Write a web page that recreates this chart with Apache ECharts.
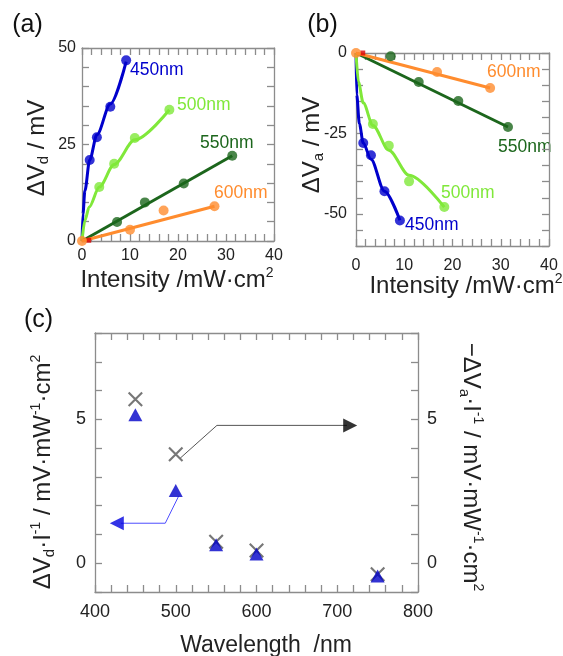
<!DOCTYPE html>
<html>
<head>
<meta charset="utf-8">
<script src="https://cdn.jsdelivr.net/npm/echarts@6/dist/echarts.min.js"></script>
<style>
html, body { margin: 0; padding: 0; background: #fff; }
#chart { width: 563px; height: 656px; }
</style>
</head>
<body>
<div id="chart"></div>
<script>
// (a) dVd vs intensity - measured points
const a450x = [1.6, 3.1, 5.9, 9.2];
const a450y = [21.0, 26.9, 34.8, 46.8];
const a500x = [3.6, 6.7, 11.0, 18.2];
const a500y = [14.0, 20.0, 26.7, 34.0];
const a550x = [7.3, 13.1, 21.2, 31.3];
const a550y = [4.9, 10.0, 14.9, 22.1];
const a600x = [0, 10.0, 17.0, 27.6];
const a600y = [0, 2.9, 7.9, 9.0];
// (a) fitted curves
const fitA450x = [0, 0.2, 0.6, 1.6, 3.1, 5.9, 9.2];
const fitA450y = [0, 7, 13, 21, 27.5, 35.5, 46.5];
const fitA500x = [0, 0.6, 1.5, 3.6, 6.7, 11.0, 18.2];
const fitA500y = [0, 5.3, 8.8, 14, 19.8, 26.2, 34];
const fitA550x = [0, 31.3];
const fitA550y = [0, 22.1];
const fitA600x = [0, 27.6];
const fitA600y = [0, 9.0];
const redAx = [1.4];
const redAy = [0.2];

// (b) dVa vs intensity
const b450x = [1.5, 3.1, 5.9, 9.1];
const b450y = [-28.0, -31.8, -43.0, -52.1];
const b500x = [3.5, 6.8, 11.0, 18.3];
const b500y = [-22.1, -28.8, -39.9, -47.9];
const b550x = [7.2, 13.0, 21.2, 31.5];
const b550y = [-1.0, -9.0, -14.9, -23.0];
const b600x = [0, 16.8, 27.8];
const b600y = [0, -5.9, -10.9];
const fitB450x = [0, 0.15, 0.7, 1.5, 3.1, 5.9, 9.1];
const fitB450y = [0, -13, -22, -28, -33, -43, -52];
const fitB500x = [0, 0.5, 1.5, 3.5, 6.8, 11.0, 18.3];
const fitB500y = [0, -9, -15.5, -22.5, -30.2, -38, -47.9];
const fitB550x = [0, 31.5];
const fitB550y = [0, -23];
const fitB600x = [0, 27.8];
const fitB600y = [0, -10.9];
const redBx = [1.4];
const redBy = [0];

// (c) per-intensity response vs wavelength
const waveC = [450, 500, 550, 600, 750];
const dVdI = [5.16, 2.53, 0.64, 0.32, -0.44];
const dVaI = [5.70, 3.79, 0.75, 0.44, -0.38];
// arrows pointing to the axes
const arrowBlackX = [505.5, 551, 712];
const arrowBlackY = [3.65, 4.79, 4.79];
const headBlack = [[716, 4.79]];
const arrowBlueX = [503.4, 487, 432];
const arrowBlueY = [2.32, 1.39, 1.39];
const headBlue = [[427, 1.39]];

const FF = '"Liberation Sans", Arial, Helvetica, sans-serif';
const BLUE = '#0000cc', LIME = '#80e83a', DGREEN = '#1c661c', ORANGE = '#ff8c2e';
const lineColor = '#8c8c8c';

function pairs(xs, ys) { return xs.map((x, i) => [x, ys[i]]); }

function valAxis(o) {
  return Object.assign({
    type: 'value',
    axisLine: { show: true, onZero: false, lineStyle: { color: lineColor, width: 1.3 } },
    axisTick: { show: true, inside: true, length: 7, lineStyle: { color: lineColor, width: 1.3 } },
    axisLabel: { show: false },
    splitLine: { show: false },
    minorTick: { show: false }
  }, o);
}
function labels(fmt, margin, size) {
  return { show: true, margin: margin, color: '#222', fontSize: size, fontFamily: FF, formatter: fmt };
}
const every = step => v => (Math.abs(v % step) < 1e-6 ? String(v) : '');

function fit(xs, ys, color, xi, yi) {
  return { type: 'line', xAxisIndex: xi, yAxisIndex: yi, data: pairs(xs, ys), smooth: 0.3, smoothMonotone: 'x',
    showSymbol: false, symbol: 'none', silent: true, lineStyle: { color: color, width: 3 }, z: 2 };
}
function dots(xs, ys, color, xi, yi) {
  return { type: 'scatter', xAxisIndex: xi, yAxisIndex: yi, data: pairs(xs, ys), symbolSize: 10,
    silent: true, itemStyle: { color: color }, z: 3 };
}

function txt(x, y, text, size, color, opts) {
  const rich = {
    sub: { font: Math.round(size * 0.62) + 'px ' + FF, lineHeight: Math.round(size * 0.62), verticalAlign: 'bottom', fill: color },
    sup: { font: Math.round(size * 0.58) + 'px ' + FF, lineHeight: Math.round(size * 0.58), verticalAlign: 'top', fill: color }
  };
  return Object.assign({
    type: 'text', x: x, y: y, silent: true,
    style: { text: text, fill: color, font: size + 'px ' + FF, lineHeight: size + 4,
      align: 'center', verticalAlign: 'middle', rich: rich }
  }, opts || {});
}
function tag(x, y, text, color) {
  return { type: 'text', x: x, y: y, silent: true,
    style: { text: text, fill: color, font: '17.5px ' + FF, align: 'left', verticalAlign: 'middle' } };
}

const chart = echarts.init(document.getElementById('chart'));
chart.setOption({
  animation: false,
  grid: [
    { left: 82, top: 48, width: 192, height: 193 },
    { left: 356, top: 53, width: 193, height: 193 },
    { left: 95, top: 333, width: 323, height: 259 }
  ],
  xAxis: [
    valAxis({ gridIndex: 0, position: 'bottom', min: 0, max: 40, interval: 2, axisLabel: labels(every(10), 7, 16) }),
    valAxis({ gridIndex: 0, position: 'top', min: 0, max: 40, interval: 2 }),
    valAxis({ gridIndex: 1, position: 'bottom', min: 0, max: 40, interval: 2, axisLabel: labels(every(10), 12, 16) }),
    valAxis({ gridIndex: 1, position: 'top', min: 0, max: 40, interval: 2 }),
    valAxis({ gridIndex: 2, position: 'bottom', min: 400, max: 800, interval: 20, axisLabel: labels(every(100), 11, 18) }),
    valAxis({ gridIndex: 2, position: 'top', min: 400, max: 800, interval: 20 })
  ],
  yAxis: [
    valAxis({ gridIndex: 0, position: 'left', min: 0, max: 50, interval: 5, axisLabel: labels(every(25), 6, 16) }),
    valAxis({ gridIndex: 0, position: 'right', min: 0, max: 50, interval: 5 }),
    valAxis({ gridIndex: 1, position: 'left', min: -60, max: 0, interval: 5, axisLabel: labels(every(25), 9, 16) }),
    valAxis({ gridIndex: 1, position: 'right', min: -60, max: 0, interval: 5 }),
    valAxis({ gridIndex: 2, position: 'left', min: -1, max: 8, interval: 1, axisLabel: labels(every(5), 9, 18) }),
    valAxis({ gridIndex: 2, position: 'right', min: -1, max: 8, interval: 1, axisLabel: labels(every(5), 9, 18) })
  ],
  series: [
    // (a)
    fit(fitA450x, fitA450y, BLUE, 0, 0),
    fit(fitA500x, fitA500y, LIME, 0, 0),
    fit(fitA550x, fitA550y, DGREEN, 0, 0),
    fit(fitA600x, fitA600y, ORANGE, 0, 0),
    dots(a450x, a450y, BLUE, 0, 0),
    dots(a500x, a500y, LIME, 0, 0),
    dots(a550x, a550y, DGREEN, 0, 0),
    { type: 'scatter', xAxisIndex: 0, yAxisIndex: 0, data: pairs(redAx, redAy), symbol: 'rect', symbolSize: 5,
      itemStyle: { color: '#dd0000' }, silent: true, z: 3 },
    dots(a600x, a600y, ORANGE, 0, 0),
    // (b)
    fit(fitB450x, fitB450y, BLUE, 2, 2),
    fit(fitB500x, fitB500y, LIME, 2, 2),
    fit(fitB550x, fitB550y, DGREEN, 2, 2),
    fit(fitB600x, fitB600y, ORANGE, 2, 2),
    dots(b450x, b450y, BLUE, 2, 2),
    dots(b500x, b500y, LIME, 2, 2),
    dots(b550x, b550y, DGREEN, 2, 2),
    { type: 'scatter', xAxisIndex: 2, yAxisIndex: 2, data: pairs(redBx, redBy), symbol: 'rect', symbolSize: 5,
      itemStyle: { color: '#dd0000' }, silent: true, z: 3 },
    dots(b600x, b600y, ORANGE, 2, 2),
    // (c)
    { type: 'line', xAxisIndex: 4, yAxisIndex: 4, data: pairs(arrowBlackX, arrowBlackY), symbol: 'none',
      silent: true, lineStyle: { color: '#555', width: 1 }, z: 2 },
    { type: 'scatter', xAxisIndex: 4, yAxisIndex: 4, data: headBlack, symbol: 'triangle', symbolRotate: -90,
      symbolSize: [14, 14], itemStyle: { color: '#000' }, silent: true, z: 2 },
    { type: 'line', xAxisIndex: 4, yAxisIndex: 4, data: pairs(arrowBlueX, arrowBlueY), symbol: 'none',
      silent: true, lineStyle: { color: '#4d4dff', width: 1 }, z: 2 },
    { type: 'scatter', xAxisIndex: 4, yAxisIndex: 4, data: headBlue, symbol: 'triangle', symbolRotate: 90,
      symbolSize: [14, 14], itemStyle: { color: '#0000e0' }, silent: true, z: 2 },
    { type: 'scatter', xAxisIndex: 4, yAxisIndex: 5, data: pairs(waveC, dVaI),
      symbol: 'path://M0,1L1,0L10,9L9,10ZM9,0L10,1L1,10L0,9Z', symbolSize: 15,
      itemStyle: { color: '#555' }, silent: true, z: 3 },
    { type: 'scatter', xAxisIndex: 4, yAxisIndex: 4, data: pairs(waveC, dVdI), symbol: 'triangle',
      symbolSize: [14, 13], itemStyle: { color: '#0000c8' }, silent: true, z: 4 }
  ],
  graphic: [
    txt(27.5, 25, '(a)', 25, '#111'),
    txt(322.5, 25, '(b)', 25, '#111'),
    txt(38.5, 320, '(c)', 25, '#111'),
    txt(177, 280, 'Intensity /mW·cm{sup|2}', 24, '#222'),
    txt(466, 286, 'Intensity /mW·cm{sup|2}', 24, '#222'),
    txt(37.5, 148, 'ΔV{sub|d} / mV', 24, '#222', { rotation: Math.PI / 2 }),
    txt(312, 145, 'ΔV{sub|a} / mV', 24, '#222', { rotation: Math.PI / 2 }),
    txt(266, 646, 'Wavelength  /nm', 23, '#222'),
    txt(43, 472, 'ΔV{sub|d}·I{sup|-1} / mV·mW{sup|-1}·cm{sup|2}', 24, '#222', { rotation: Math.PI / 2 }),
    txt(471, 467, '−ΔV{sub|a}·I{sup|-1} / mV·mW{sup|-1}·cm{sup|2}', 24, '#222', { rotation: -Math.PI / 2 }),
    tag(130, 70, '450nm', BLUE),
    tag(177, 105, '500nm', LIME),
    tag(200, 143, '550nm', DGREEN),
    tag(214, 193, '600nm', ORANGE),
    tag(487, 72, '600nm', ORANGE),
    tag(498, 147, '550nm', DGREEN),
    tag(441, 193, '500nm', LIME),
    tag(405, 225, '450nm', BLUE)
  ]
});
</script>
</body>
</html>
